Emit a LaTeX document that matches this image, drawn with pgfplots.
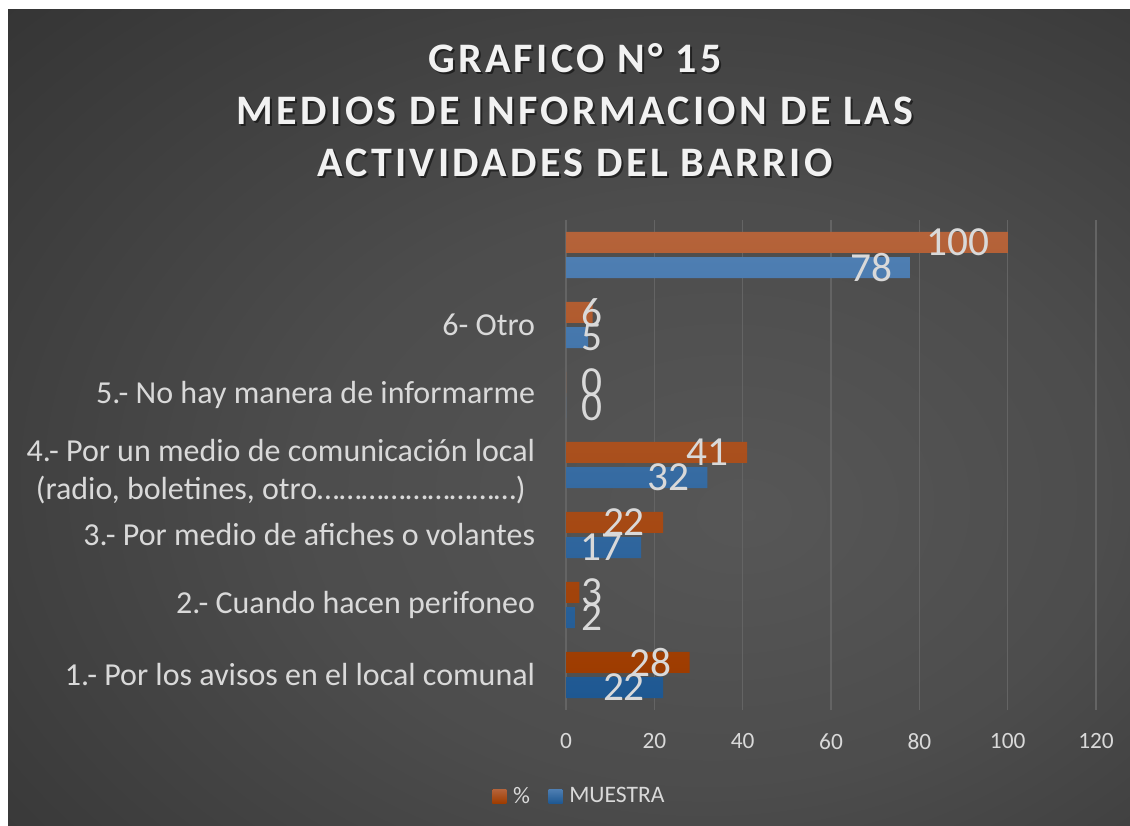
\documentclass[border=0pt]{standalone}
\usepackage{pgfplots}
\pgfplotsset{compat=1.18}
\usepackage{fontspec}
\setmainfont{Carlito}
\newfontfamily\titlefont[LetterSpace=8]{Carlito}
\definecolor{txt}{HTML}{D9D9D9}
\definecolor{gridc}{HTML}{646464}
\definecolor{axisc}{HTML}{A0A0A0}
\definecolor{orTop}{HTML}{B5633A}
\definecolor{orBot}{HTML}{9E3C00}
\definecolor{blTop}{HTML}{4E7EB2}
\definecolor{blBot}{HTML}{1E5892}
\pgfdeclareradialshading{bgshade}{\pgfpoint{8bp}{-6bp}}{%
  color(0bp)=(black!66);
  color(18bp)=(black!70);
  color(40bp)=(black!79);
  color(60bp)=(black!85);
  color(80bp)=(black!86)}
\begin{document}
\begin{tikzpicture}
\fill[white] (0,0) rectangle (847.5pt,618.75pt);
\shade[shading=bgshade] (6pt,0) rectangle (847.5pt,611.25pt);
% title
\node[align=center, text=black, opacity=0.5, font=\titlefont\bfseries\fontsize{31.5}{39}\selectfont] at (432.75pt,534.75pt)
  {GRAFICO N° 15\\MEDIOS DE INFORMACION DE LAS\\ACTIVIDADES DEL BARRIO};
\node[align=center, text=white!95!black, font=\titlefont\bfseries\fontsize{31.5}{39}\selectfont] at (431.25pt,536.25pt)
  {GRAFICO N° 15\\MEDIOS DE INFORMACION DE LAS\\ACTIVIDADES DEL BARRIO};
\begin{axis}[
  at={(424.5pt,86.25pt)}, anchor=south west,
  scale only axis, width=397.5pt, height=367.5pt,
  xmin=0, xmax=120, ymin=-0.5, ymax=6.5,
  xtick={0,20,...,120},
  ytick={0,...,6},
  yticklabels={1.- Por los avisos en el local comunal,
    2.- Cuando hacen perifoneo,
    3.- Por medio de afiches o volantes,
    {\rule{0pt}{26pt}4.- Por un medio de comunicación local\\(radio, boletines, otro………………………)},
    5.- No hay manera de informarme,
    6- Otro, {}},
  axis line style={draw=none},
  major tick length=0pt,
  xmajorgrids,
  major grid style={gridc, line width=0.9pt},
  extra x ticks={0}, extra x tick labels={},
  extra x tick style={grid style={axisc, line width=1.2pt}},
  /pgf/number format/assume math mode=true,
  xticklabel style={font=\fontsize{17.5}{20}\selectfont, text=txt, yshift=-14pt},
  yticklabel style={font=\fontsize{24}{28.5}\selectfont, text=txt, align=center, anchor=east, inner sep=0pt, xshift=-23pt},
  xbar, bar width=15.75pt,
  clip=false,
  nodes near coords,
  visualization depends on={x \as \rawx},
  every node near coord/.append style={font=\fontsize{31}{31}\selectfont, text=txt, anchor=east, inner sep=0pt,
     xshift={0.75*max(-18,37-4.4167*\rawx)}},
  legend style={at={(0.026,-0.176)}, anchor=center, draw=none, fill=none, text=txt,
     font=\fontsize{17.7}{20}\selectfont, legend columns=2,
     /tikz/every odd column/.append style={column sep=3pt},
     /tikz/every even column/.append style={column sep=12pt}},
  legend image code/.code={\fill[#1] (0pt,-5.25pt) rectangle (10.5pt,5.25pt);},
]
\addplot[draw=none, top color=orTop, bottom color=orBot, bar shift=9.4pt]
  coordinates {(28,0) (3,1) (22,2) (41,3) (0,4) (6,5) (100,6)};
\addplot[draw=none, top color=blTop, bottom color=blBot, bar shift=-9.4pt]
  coordinates {(22,0) (2,1) (17,2) (32,3) (0,4) (5,5) (78,6)};
\legend{\%, MUESTRA}
\end{axis}
\end{tikzpicture}
\end{document}
